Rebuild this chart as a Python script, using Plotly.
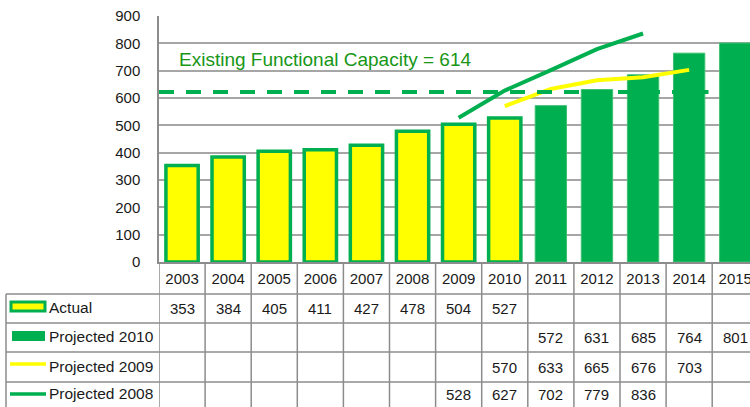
import plotly.graph_objects as go

years = ["2003", "2004", "2005", "2006", "2007", "2008", "2009", "2010",
         "2011", "2012", "2013", "2014", "2015"]
actual_years = ["2003", "2004", "2005", "2006", "2007", "2008", "2009", "2010"]
actual = [353, 384, 405, 411, 427, 478, 504, 527]
proj2010_years = ["2011", "2012", "2013", "2014", "2015"]
proj2010 = [572, 631, 685, 764, 801]
proj2009_years = ["2010", "2011", "2012", "2013", "2014"]
proj2009 = [570, 633, 665, 676, 703]
proj2008_years = ["2009", "2010", "2011", "2012", "2013"]
proj2008 = [528, 627, 702, 779, 836]
capacity_value = 614
capacity_drawn = 622
capacity_label = "Existing Functional Capacity = 614"
y_ticks = [0, 100, 200, 300, 400, 500, 600, 700, 800, 900]

GREEN = "#00B050"
YELLOW = "#FFFF00"
GRID = "#A6A6A6"
TXT = "#1a1a1a"
FONT = "Liberation Sans"

W, H = 750, 407
L, T, B = 159, 16, 145
plot_h = H - T - B  # 246
cat_w = 46.1
plot_w = W - L
x_max = -0.5 + plot_w / cat_w


def py(pix):
    return (H - B - pix) / plot_h


def px(pix):
    return (pix - L) / plot_w


fig = go.Figure()
fig.add_trace(go.Bar(x=actual_years, y=actual, name="Actual", width=0.7,
                     marker=dict(color=YELLOW, line=dict(color=GREEN, width=3.5))))
fig.add_trace(go.Bar(x=proj2010_years, y=proj2010, name="Projected 2010", width=0.68,
                     marker=dict(color=GREEN, line=dict(color="#3cc070", width=1))))
fig.add_trace(go.Scatter(x=proj2009_years, y=proj2009, mode="lines", name="Projected 2009",
                         line=dict(color=YELLOW, width=4)))
fig.add_trace(go.Scatter(x=proj2008_years, y=proj2008, mode="lines", name="Projected 2008",
                         line=dict(color=GREEN, width=4)))

shapes = []
annotations = []

# capacity dashed line
shapes.append(dict(type="line", xref="x", yref="y", x0=-0.5, x1=11.42,
                   y0=capacity_drawn, y1=capacity_drawn,
                   line=dict(color=GREEN, width=4, dash="15px,12px"), layer="above"))
annotations.append(dict(text=capacity_label, xref="paper", yref="paper",
                        x=px(177), y=py(60), xanchor="left", yanchor="middle",
                        showarrow=False, font=dict(family=FONT, size=19, color="#179617")))

# table grid
row_lines = [294, 323, 352, 382]
for r in row_lines:
    shapes.append(dict(type="line", xref="paper", yref="paper", x0=px(6), x1=1.0,
                       y0=py(r), y1=py(r), line=dict(color="#8c8c8c", width=1.5)))
shapes.append(dict(type="line", xref="paper", yref="paper", x0=px(6), x1=px(6),
                   y0=py(294), y1=py(407), line=dict(color="#8c8c8c", width=1.5)))
for i in range(len(years) + 1):
    shapes.append(dict(type="line", xref="x", yref="paper", x0=i - 0.5, x1=i - 0.5,
                       y0=0, y1=py(407), line=dict(color="#8c8c8c", width=1.5)))

row_centers = [308.5, 337.5, 367, 394.5]
series_rows = [(actual_years, actual), (proj2010_years, proj2010),
               (proj2009_years, proj2009), (proj2008_years, proj2008)]
for (yrs, vals), rc in zip(series_rows, row_centers):
    for yr, v in zip(yrs, vals):
        annotations.append(dict(text=str(v), xref="x", yref="paper", x=years.index(yr),
                                y=py(rc), showarrow=False, xanchor="center", yanchor="middle",
                                font=dict(family=FONT, size=15, color=TXT)))

# legend keys in table
labels = ["Actual", "Projected 2010", "Projected 2009", "Projected 2008"]
for lab, rc in zip(labels, row_centers):
    annotations.append(dict(text=lab, xref="paper", yref="paper", x=px(47), y=py(rc - 1),
                            xanchor="left", yanchor="middle", showarrow=False,
                            font=dict(family=FONT, size=15.5, color=TXT)))
shapes.append(dict(type="rect", xref="paper", yref="paper", x0=px(11), x1=px(45),
                   y0=py(302), y1=py(311), fillcolor=YELLOW,
                   line=dict(color=GREEN, width=3)))
shapes.append(dict(type="rect", xref="paper", yref="paper", x0=px(12), x1=px(45),
                   y0=py(331), y1=py(341), fillcolor=GREEN, line=dict(width=0)))
shapes.append(dict(type="line", xref="paper", yref="paper", x0=px(10), x1=px(46),
                   y0=py(364), y1=py(364), line=dict(color=YELLOW, width=3.5)))
shapes.append(dict(type="line", xref="paper", yref="paper", x0=px(10), x1=px(46),
                   y0=py(394), y1=py(394), line=dict(color=GREEN, width=3.5)))

fig.update_layout(
    width=W, height=H,
    margin=dict(l=L, r=0, t=T, b=B, autoexpand=False),
    paper_bgcolor="white", plot_bgcolor="white",
    barmode="overlay", showlegend=False,
    shapes=shapes, annotations=annotations,
    font=dict(family=FONT, size=15, color=TXT),
)
fig.update_xaxes(type="category", categoryorder="array", categoryarray=years,
                 range=[-0.5, x_max], showgrid=False, ticks="", automargin=False,
                 showline=True, linecolor="#8c8c8c", linewidth=1.5,
                 tickfont=dict(family=FONT, size=15, color=TXT), ticklabelstandoff=2)
fig.update_yaxes(range=[0, 900], tickvals=y_ticks, showgrid=True, gridcolor=GRID,
                 gridwidth=1.5, showline=True, linecolor="#8c8c8c", linewidth=1.5,
                 zeroline=False, ticks="", ticklabelstandoff=14, automargin=False,
                 tickfont=dict(family=FONT, size=15, color=TXT))

fig.write_html("out.html", config={"displayModeBar": False},
               post_script="document.body.style.margin='0';document.body.style.overflow='hidden';")
